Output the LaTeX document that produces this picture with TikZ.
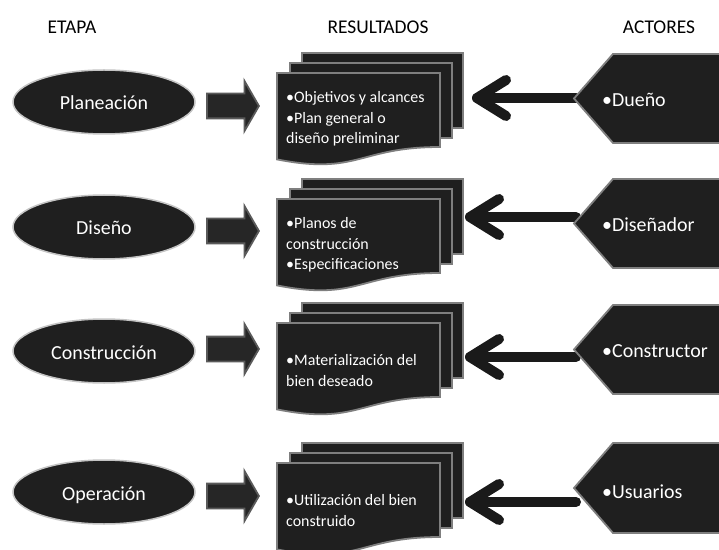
\documentclass[tikz,border=0pt]{standalone}
\usepackage{fontspec}
\setmainfont{Carlito}
\usetikzlibrary{shapes.geometric,shapes.arrows,calc}
\definecolor{dk}{HTML}{1F1F1F}
\definecolor{ellb}{HTML}{C4C4C4}
\definecolor{fatb}{HTML}{5A5A5A}
\definecolor{fatf}{HTML}{262626}
\definecolor{docb}{HTML}{7F7F7F}
\definecolor{arr}{HTML}{1A1A1A}
\newcommand\mydocs[1]{%
  \filldraw[page] (302,#1) rectangle (463,#1+75);
  \filldraw[page] (290,#1+10) rectangle (452,#1+85);
  \filldraw[page] (277,#1+20) -- (440,#1+20) -- (440,#1+94)
     .. controls (358.5,#1+94) and (358.5,#1+122.4) .. (277,#1+106.4) -- cycle;}
\newcommand\myactor[3]{% top, bottom, point y
  \filldraw[actorshape] (574,#3) -- (613,#1) -- (730,#1) -- (730,#2) -- (613,#2) -- cycle;}
\begin{document}
\begin{tikzpicture}[x=1bp,y=-1bp,
  hdr/.style={font=\fontsize{19.5}{22}\selectfont, text=black, anchor=base, inner sep=0},
  stage/.style={ellipse, draw=ellb, line width=1.5bp, fill=dk, minimum width=182bp,
     minimum height=64bp, inner sep=0, text=white, font=\fontsize{20}{22}\selectfont,
     text height=16bp, text depth=0bp},
  fat/.style={single arrow, draw=fatb, fill=fatf, line width=1.8bp, minimum height=52bp,
     single arrow head extend=12.5bp, single arrow tip angle=120, inner xsep=0pt,
     inner ysep=11.5bp, text height=0pt, text depth=0pt, anchor=tail},
  page/.style={draw=docb, fill=dk, line width=1.8bp},
  doctext/.style={font=\fontsize{16}{21}\selectfont, text=white, align=left, anchor=base west, inner sep=0},
  actorshape/.style={draw=docb, fill=dk, line width=1.8bp},
  actortext/.style={font=\fontsize{20}{22}\selectfont, text=white, anchor=base west, inner sep=0},
  thinarr/.style={draw=arr, line width=10bp, line cap=round, line join=round}]
\useasboundingbox (0,0) rectangle (719,550);
\fill[white] (0,0) rectangle (719,550);

% headers
\node[hdr] (h1) at (72,34) {ETAPA};
\node[hdr] (h2) at (378,34) {RESULTADOS};
\node[hdr] (h3) at (659,34) {ACTORES};

% ---------- row 1
\node[stage] (e1) at (104,102) {Planeación};
\node[fat] (f1) at (206,106) {};
\mydocs{53}
\node[doctext] (d1) at (286,144) {•Objetivos y alcances\\•Plan general o\\diseño preliminar};
\coordinate (p1) at (576,98);
\coordinate (t1) at (477,98);
\draw[thinarr] (p1) -- (t1);
\draw[thinarr] ($(t1)+(29,-18)$) -- (t1) -- ($(t1)+(29,18)$);
\myactor{54}{143}{98.5}
\node[actortext] (a1) at (602,107) {•Dueño};

% ---------- row 2
\node[stage] (e2) at (104,227) {Diseño};
\node[fat] (f2) at (206,231) {};
\mydocs{179}
\node[doctext] (d2) at (286,270) {•Planos de\\construcción\\•Especificaciones};
\coordinate (p2) at (576,217);
\coordinate (t2) at (470,217);
\draw[thinarr] (p2) -- (t2);
\draw[thinarr] ($(t2)+(29,-18)$) -- (t2) -- ($(t2)+(29,18)$);
\myactor{179}{268}{223.5}
\node[actortext] (a2) at (602,232) {•Diseñador};

% ---------- row 3
\node[stage] (e3) at (104,351) {Construcción};
\node[fat] (f3) at (206,349) {};
\mydocs{303}
\node[doctext] (d3) at (286,386) {•Materialización del\\bien deseado};
\coordinate (p3) at (576,357);
\coordinate (t3) at (470,357);
\draw[thinarr] (p3) -- (t3);
\draw[thinarr] ($(t3)+(29,-18)$) -- (t3) -- ($(t3)+(29,18)$);
\myactor{305}{394}{349.5}
\node[actortext] (a3) at (602,357) {•Constructor};

% ---------- row 4
\node[stage] (e4) at (104,492) {Operación};
\node[fat] (f4) at (206,496) {};
\mydocs{443}
\node[doctext] (d4) at (286,526) {•Utilización del bien\\construido};
\coordinate (p4) at (576,502);
\coordinate (t4) at (470,502);
\draw[thinarr] (p4) -- (t4);
\draw[thinarr] ($(t4)+(29,-18)$) -- (t4) -- ($(t4)+(29,18)$);
\myactor{443}{533}{488}
\node[actortext] (a4) at (602,498) {•Usuarios};
\end{tikzpicture}
\end{document}
